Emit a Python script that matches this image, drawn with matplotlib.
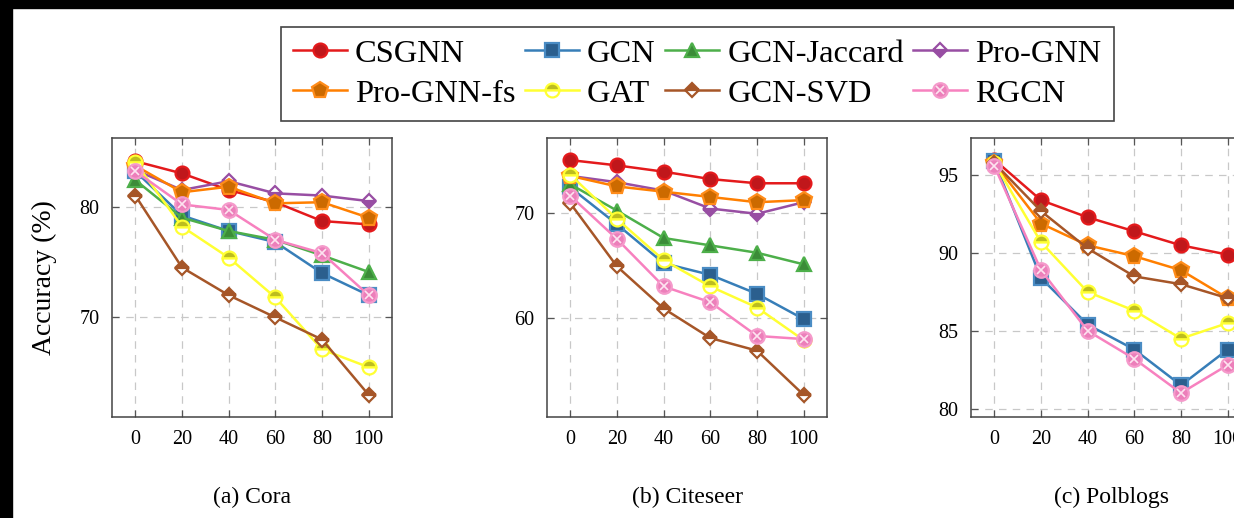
import numpy as np
import matplotlib
matplotlib.use("Agg")
import matplotlib.pyplot as plt
from matplotlib.patches import Rectangle

plt.rcParams['font.family'] = ['Liberation Serif', 'DejaVu Serif']

# perturbation rates (%)
ptb_rates = [0, 20, 40, 60, 80, 100]

# Cora
cora_csgnn = [84.1, 83.0, 81.5, 80.4, 78.7, 78.4]
cora_gcn = [83.2, 79.2, 77.8, 76.8, 74.0, 72.0]
cora_jaccard = [82.4, 79.0, 77.8, 77.0, 75.6, 74.1]
cora_prognn = [83.3, 81.5, 82.3, 81.2, 81.0, 80.5]
cora_prognn_fs = [83.7, 81.3, 81.8, 80.3, 80.4, 79.0]
cora_gat = [84.0, 78.2, 75.4, 71.8, 67.1, 65.5]
cora_svd = [81.0, 74.5, 72.0, 70.0, 68.0, 63.0]
cora_rgcn = [83.2, 80.2, 79.7, 77.0, 75.8, 72.0]

# Citeseer
cite_csgnn = [75.0, 74.5, 73.9, 73.2, 72.8, 72.8]
cite_gcn = [72.4, 68.9, 65.2, 64.1, 62.3, 59.9]
cite_jaccard = [72.7, 70.2, 67.6, 66.9, 66.2, 65.1]
cite_prognn = [73.5, 72.9, 72.1, 70.4, 69.9, 71.0]
cite_prognn_fs = [73.5, 72.5, 72.0, 71.5, 71.0, 71.2]
cite_gat = [73.6, 69.4, 65.5, 63.0, 61.0, 57.9]
cite_svd = [70.9, 64.9, 60.9, 58.1, 56.9, 52.7]
cite_rgcn = [71.6, 67.5, 63.0, 61.5, 58.3, 58.0]

# Polblogs (no GCN-Jaccard / Pro-GNN curves)
pol_csgnn = [96.0, 93.4, 92.3, 91.4, 90.5, 89.9]
pol_gcn = [95.9, 88.4, 85.4, 83.8, 81.5, 83.8]
pol_prognn_fs = [95.8, 91.9, 90.5, 89.8, 88.9, 87.1]
pol_gat = [95.8, 90.7, 87.5, 86.3, 84.5, 85.5]
pol_svd = [95.8, 92.7, 90.3, 88.5, 88.0, 87.1]
pol_rgcn = [95.6, 88.9, 85.0, 83.2, 81.0, 82.8]

methods = ['CSGNN', 'GCN', 'GCN-Jaccard', 'Pro-GNN', 'Pro-GNN-fs', 'GAT', 'GCN-SVD', 'RGCN']

panels = [
    ('(a) Cora', [cora_csgnn, cora_gcn, cora_jaccard, cora_prognn, cora_prognn_fs,
                  cora_gat, cora_svd, cora_rgcn], (61.0, 86.2), [70, 80]),
    ('(b) Citeseer', [cite_csgnn, cite_gcn, cite_jaccard, cite_prognn, cite_prognn_fs,
                      cite_gat, cite_svd, cite_rgcn], (50.6, 77.1), [60, 70]),
    ('(c) Polblogs', [pol_csgnn, pol_gcn, None, None, pol_prognn_fs,
                      pol_gat, pol_svd, pol_rgcn], (79.46, 97.4), [80, 85, 90, 95]),
]

# line colour, marker, face, alt face, edge, fillstyle, size
styles = {
    'CSGNN': dict(color='#e41a1c', marker='o', mfc='#c0171b', mfcalt='none', mec='#e41a1c', fs='full', ms=10),
    'GCN': dict(color='#377eb8', marker='s', mfc='#2b5f8e', mfcalt='none', mec='#4a8cc4', fs='full', ms=10),
    'GCN-Jaccard': dict(color='#4daf4a', marker='^', mfc='#3b8c38', mfcalt='none', mec='#4daf4a', fs='full', ms=10.5),
    'Pro-GNN': dict(color='#984ea3', marker='D', mfc='#984ea3', mfcalt='white', mec='#984ea3', fs='bottom', ms=7.5),
    'Pro-GNN-fs': dict(color='#ff7f00', marker='p', mfc='#cc6a00', mfcalt='none', mec='#ff8c1a', fs='full', ms=12),
    'GAT': dict(color='#ffff33', marker='o', mfc='#bdbd1e', mfcalt='white', mec='#ffff33', fs='top', ms=10),
    'GCN-SVD': dict(color='#a65628', marker='D', mfc='#a65628', mfcalt='white', mec='#a65628', fs='top', ms=7.5),
    'RGCN': dict(color='#f781bf', marker='o', mfc='#ec7fba', mfcalt='none', mec='#f59acb', fs='full', ms=10.5),
}

fig = plt.figure(figsize=(12.34, 5.18), dpi=100)

ax_w = 280 / 1234
ax_h = 279 / 518
ax_b = 101 / 518
lefts = [112 / 1234, 547 / 1234, 971 / 1234]

legend_handles = {}
for (caption, series, ylim, yticks), left in zip(panels, lefts):
    ax = fig.add_axes([left, ax_b, ax_w, ax_h])
    for name, vals in zip(methods, series):
        if vals is None:
            continue
        st = styles[name]
        ln, = ax.plot(ptb_rates, vals, color=st['color'], lw=1.8, marker=st['marker'],
                      markersize=st['ms'], markerfacecolor=st['mfc'],
                      markerfacecoloralt=st['mfcalt'], markeredgecolor=st['mec'],
                      markeredgewidth=1.6, fillstyle=st['fs'], label=name)
        handle = ln
        if name == 'RGCN':
            xm, = ax.plot(ptb_rates, vals, linestyle='none', marker='x', markersize=5.5,
                          markeredgecolor='#fde3f0', markeredgewidth=1.2)
            handle = (ln, xm)
        legend_handles.setdefault(name, handle)

    ax.set_xlim(-10, 110)
    ax.set_ylim(*ylim)
    ax.set_xticks(ptb_rates)
    ax.set_yticks(yticks)
    ax.grid(True, color='#c8c8c8', linestyle=(0, (6, 5)), linewidth=0.9)
    ax.set_axisbelow(True)
    ax.tick_params(direction='in', top=True, right=True, length=5, width=0.9,
                   color='#555555', labelsize=14.5, pad=9)
    for sp in ax.spines.values():
        sp.set_color('#444444')
        sp.set_linewidth(1.1)
    fig.text(left + ax_w / 2, 1 - 497 / 518, caption, ha='center', va='center', fontsize=17)

    if caption.startswith('(a)'):
        ax.set_ylabel('Accuracy (%)', fontsize=20, labelpad=16)

# legend laid out row-wise with 4 columns
order = ['CSGNN', 'Pro-GNN-fs', 'GCN', 'GAT', 'GCN-Jaccard', 'GCN-SVD', 'Pro-GNN', 'RGCN']
leg = fig.legend([legend_handles[k] for k in order], order, ncol=4, loc='upper left',
                 bbox_to_anchor=(281 / 1234, 1 - 27 / 518), borderaxespad=0, fontsize=23.4,
                 frameon=True, fancybox=False, edgecolor='#444444', framealpha=1,
                 handlelength=1.66, handletextpad=0.25, columnspacing=0.29,
                 labelspacing=0.31, borderpad=0.37)
leg.get_frame().set_linewidth(1.2)

# black screenshot border on top and left
fig.add_artist(Rectangle((0, 1 - 8 / 518), 1, 8 / 518, transform=fig.transFigure,
                         color='black', zorder=10))
fig.add_artist(Rectangle((0, 0), 12 / 1234, 1, transform=fig.transFigure,
                         color='black', zorder=10))

fig.savefig('out.png', dpi=100)
